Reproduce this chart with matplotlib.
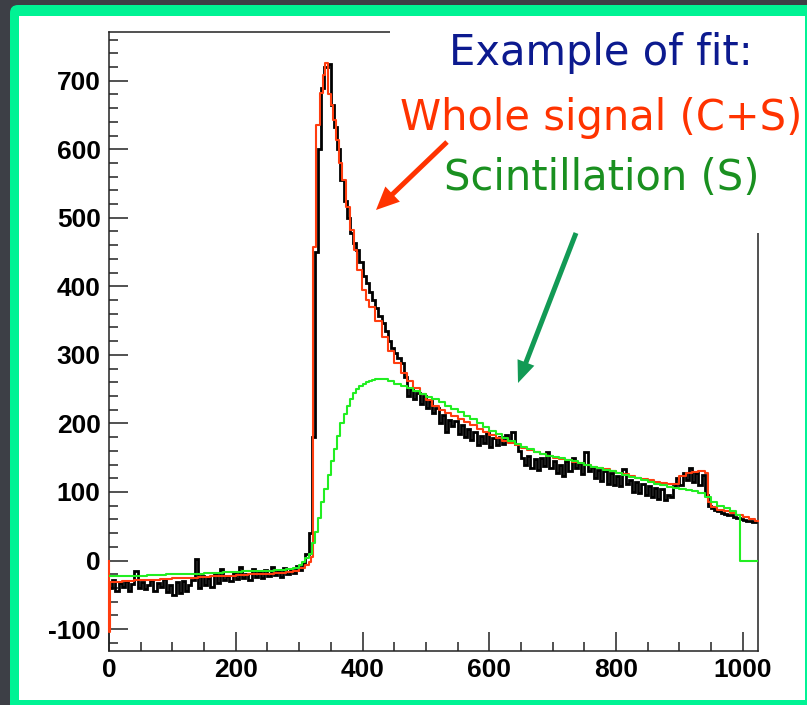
import numpy as np
import matplotlib
matplotlib.use("Agg")
import matplotlib.pyplot as plt
from matplotlib.patches import FancyBboxPatch, Rectangle, FancyArrow
from matplotlib.ticker import MultipleLocator

plt.rcParams['axes.unicode_minus'] = False
W, H = 807, 705

# measured signal (black histogram), read in 5-unit bins from 0 to 1024
base_vals = [-40, -28, -45, -33, -38, -30, -44, -34, -16, -40,
             -31, -42, -36, -29, -45, -33, -38, -27, -46, -35,
             -50, -32, -48, -30, -44, -36, -28, 2, -40, -22,
             -36, -25, -38, -20, -33, -12, -28, -22, -30, -18,
             -27, -10, -26, -19, -29, -12, -24, -17, -26, -14,
             -22, -10, -21, -15, -24, -11, -20, -14, -18, -8,
             -14, -4]
pulse_vals = [10, 40, 180, 450, 600, 690, 720, 725, 665, 632,
              600, 555, 525, 500, 478, 463, 453, 435, 415, 405,
              392, 380, 368, 356, 347, 335, 320, 310, 302, 295,
              288, 268]
tail_vals = [240, 250, 236, 245, 228, 240, 222, 232, 215, 222,
             200, 212, 188, 205, 196, 203, 185, 198, 180, 192,
             176, 188, 168, 182, 172, 186, 165, 178, 168, 180,
             170, 183, 175, 187, 170, 160, 150, 140, 152, 135,
             148, 132, 150, 138, 158, 135, 145, 128, 140, 124,
             145, 130, 150, 135, 142, 126, 158, 130, 136, 120,
             132, 116, 130, 112, 128, 110, 124, 108, 133, 112,
             118, 100, 115, 98, 112, 96, 108, 92, 106, 90,
             104, 88, 96, 92, 108, 120, 110, 128, 118, 135,
             115, 128, 110, 125, 95, 80, 76, 73, 72, 70,
             68, 67, 66, 64, 62, 60, 59, 58, 57, 56,
             56]
data_vals = base_vals + pulse_vals + tail_vals
data_edges = np.append(np.arange(0, 1021, 5), 1024)

# fit of the whole signal (C+S), drawn as steps
fit_x = ([0, 0, 2] + list(range(10, 301, 10))
         + [310, 315, 318, 322, 327, 333, 337, 341, 346, 350, 354, 358, 363,
            368, 374, 380, 386, 392, 399, 405, 410]
         + list(range(420, 881, 10))
         + [890, 900, 910, 920, 930, 940, 945, 950, 960, 970, 980, 990, 1000,
            1010, 1020, 1024])
fit_y = ([0, -104, -31]
         + [-31, -30, -30, -29, -29, -28, -28, -27, -27, -26,
            -26, -25, -25, -24, -24, -23, -23, -22, -22, -21,
            -21, -20, -20, -19, -19, -18, -18, -17, -15, -11]
         + [-7, -2, 5, 458, 636, 682, 708, 726, 680, 665, 643, 614, 580,
            555, 516, 482, 453, 424, 395, 380, 370]
         + [350, 326, 305, 288, 273, 262, 252, 243, 234, 226,
            220, 215, 211, 206, 202, 197, 192, 187, 183, 179,
            175, 171, 168, 164, 161, 158, 155, 152, 150, 148,
            146, 144, 142, 139, 137, 135, 133, 131, 128, 126,
            124, 121, 119, 117, 115, 113, 111]
         + [112, 123, 127, 129, 131, 127, 85, 78, 74, 72, 70, 67, 64,
            60, 57, 57])

# scintillation component (S)
scint_x = (list(range(0, 300, 10)) + list(range(300, 420, 5))
           + list(range(420, 991, 10)) + [996, 1024])
scint_y = ([-23, -23, -23, -22, -22, -22, -21, -21, -21, -20,
            -20, -20, -19, -19, -19, -18, -18, -18, -17, -17,
            -17, -16, -16, -16, -15, -15, -14, -14, -13, -11]
           + [-6, -2, 4, 10, 25, 42, 62, 85, 105, 125, 145, 163,
              182, 200, 214, 226, 236, 244, 250, 254, 257, 260, 262, 264]
           + [265, 265, 262, 258, 255, 251, 247, 243]
           + [239, 235, 231, 226, 221, 216, 211, 206, 200, 195]
           + [189, 184, 179, 174, 170, 166, 162, 158, 155, 153]
           + [151, 149, 147, 145, 142, 140, 137, 135, 132, 130]
           + [127, 125, 122, 120, 117, 115, 112, 110, 107, 106]
           + [104, 103, 101, 99, 92, 86, 80, 76, 72, 67]
           + [0, 0])

xticks = [0, 200, 400, 600, 800, 1000]
yticks = [-100, 0, 100, 200, 300, 400, 500, 600, 700]

fig = plt.figure(figsize=(W / 100, H / 100), dpi=100, facecolor='#3d3f46')

# slide frame
bg = fig.add_axes([0, 0, 1, 1], zorder=-2)
bg.set_xlim(0, W); bg.set_ylim(H, 0); bg.axis('off')
bg.add_patch(FancyBboxPatch((10, 5), 900, 800, boxstyle='round,pad=0,rounding_size=8',
                            fc='#00f394', ec='none'))
bg.add_patch(Rectangle((19, 16), 786, 684, fc='white', ec='none'))

# histogram pad
ax = fig.add_axes([109 / W, 1 - 651 / H, (758 - 109) / W, (651 - 32) / H])
ax.set_facecolor('white')
ax.stairs(data_vals, data_edges, color='black', lw=2.0, baseline=None, zorder=2)
ax.plot(fit_x, fit_y, drawstyle='steps-post', color='#ff3d0f', lw=1.5, zorder=3, clip_on=False)
ax.plot(scint_x, scint_y, drawstyle='steps-post', color='#22ee22', lw=1.5, zorder=4)

ax.set_xlim(0, 1024)
ax.set_ylim(-132, 771)
ax.set_xticks(xticks)
ax.set_yticks(yticks)
ax.xaxis.set_minor_locator(MultipleLocator(50))
ax.yaxis.set_minor_locator(MultipleLocator(20))
ax.tick_params(which='both', direction='in', top=False, right=False, color='#222222', width=1.1)
ax.tick_params(which='major', length=13.5)
ax.tick_params(which='minor', length=6.5)
ax.tick_params(axis='y', pad=6)
ax.tick_params(axis='x', pad=5)
for lab in ax.get_xticklabels() + ax.get_yticklabels():
    lab.set_fontfamily('Liberation Sans')
    lab.set_fontweight('bold')
    lab.set_fontsize(19)
for sp in ax.spines.values():
    sp.set_color('#222222')
    sp.set_linewidth(1.1)

# annotation box over the top-right corner
ov = fig.add_axes([0, 0, 1, 1], zorder=5)
ov.set_xlim(0, W); ov.set_ylim(H, 0); ov.axis('off')
ov.add_patch(Rectangle((390, 16), 415, 217, fc='white', ec='none'))
tfont = dict(family='DejaVu Sans', size=30, ha='center', va='baseline')
ov.text(601, 65, 'Example of fit:', color='#0c1a8f', **tfont)
ov.text(601, 130, 'Whole signal (C+S)', color='#ff3300', **tfont)
ov.text(602, 190, 'Scintillation (S)', color='#1a9020', **tfont)

ov.add_patch(FancyArrow(447, 142, 376 - 447, 210 - 142, width=5, head_width=21,
                        head_length=23, length_includes_head=True, color='#ff3300', lw=0))
ov.add_patch(FancyArrow(576, 233, 518 - 576, 383 - 233, width=5, head_width=18,
                        head_length=22, length_includes_head=True, color='#129a55', lw=0))

fig.savefig('out.png', dpi=100, facecolor=fig.get_facecolor())
